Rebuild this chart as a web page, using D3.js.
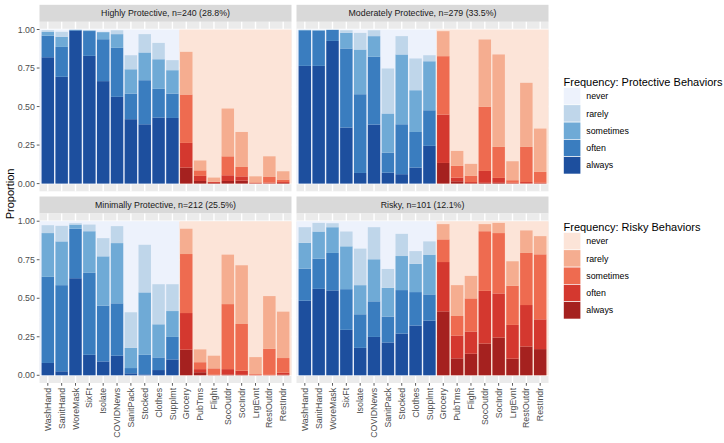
<!DOCTYPE html>
<html><head><meta charset="utf-8">
<script src="https://cdn.jsdelivr.net/npm/d3@7"></script>
<style>body{margin:0;background:#fff}svg{display:block;font-family:"Liberation Sans",Arial,sans-serif}</style>
</head><body><svg id="c" width="724" height="443"></svg>
<script>
const categories = ["WashHand","SanitHand","WoreMask","SixFt","Isolate","COVIDNews","SanitPack","Stocked","Clothes","Supplmt",
  "Grocery","PubTrns","Flight","SocOutdr","SocIndr","LrgEvnt","RestOutdr","RestIndr"];
const protectiveCats = categories.slice(0,10);
const levels = ["always","often","sometimes","rarely"];
const legendLevels = ["never","rarely","sometimes","often","always"];
const panelTitles = ["Highly Protective, n=240 (28.8%)","Moderately Protective, n=279 (33.5%)",
  "Minimally Protective, n=212 (25.5%)","Risky, n=101 (12.1%)"];
const yTicks = [0,0.25,0.5,0.75,1];

// Highly Protective
const hpAlways    = [.82,.693,.993,.829,.665,.563,.418,.385,.429,.426,.104,.017,.004,.017,.02,.002,.002,.004];
const hpOften     = [.14,.194,.004,.161,.272,.318,.166,.286,.186,.158,.16,.033,.006,.037,.027,.002,.004,.006];
const hpSometimes = [.025,.065,.001,.004,.046,.089,.158,.18,.192,.152,.314,.036,.002,.123,.061,.004,.037,.016];
const hpRarely    = [.01,.033,.001,.002,.002,.025,.091,.119,.106,.065,.277,.064,.027,.31,.227,.039,.134,.054];
// Moderately Protective
const mpAlways    = [.764,.764,.926,.364,.069,.383,.071,.061,.104,.245,.134,.015,.003,.005,.005,.002,.002,.002];
const mpOften     = [.231,.229,.071,.513,.511,.44,.13,.324,.231,.231,.314,.024,.007,.077,.032,.003,.008,.003];
const mpSometimes = [.002,.003,.001,.101,.29,.134,.254,.453,.271,.318,.379,.076,.04,.416,.201,.017,.228,.071];
const mpRarely    = [.001,.001,.001,.017,.108,.038,.292,.119,.206,.039,.162,.097,.078,.437,.6,.123,.416,.281];
// Minimally Protective
const minAlways    = [.08,.026,.63,.133,.09,.127,.013,.006,.034,.103,.166,.02,.001,.005,.003,.001,.001,.004];
const minOften     = [.559,.559,.321,.532,.362,.34,.034,.127,.082,.146,.238,.02,.003,.035,.027,.003,.002,.013];
const minSometimes = [.284,.284,.027,.27,.32,.391,.131,.405,.215,.168,.383,.045,.041,.422,.303,.004,.169,.095];
const minRarely    = [.051,.101,.009,.043,.118,.11,.231,.309,.26,.174,.164,.083,.082,.321,.381,.11,.342,.301];
// Risky
const rkAlways    = [.484,.561,.551,.295,.178,.249,.213,.271,.323,.355,.415,.11,.14,.206,.245,.108,.187,.17];
const rkOften     = [.208,.196,.243,.264,.218,.231,.168,.282,.217,.17,.32,.148,.144,.342,.286,.219,.269,.193];
const rkSometimes = [.168,.176,.167,.278,.189,.273,.187,.221,.183,.258,.147,.127,.215,.387,.392,.254,.338,.422];
const rkRarely    = [.101,.056,.026,.096,.237,.208,.122,.144,.083,.086,.099,.2,.146,.046,.066,.159,.146,.118];

const panelSeries = [
  [hpAlways,hpOften,hpSometimes,hpRarely],
  [mpAlways,mpOften,mpSometimes,mpRarely],
  [minAlways,minOften,minSometimes,minRarely],
  [rkAlways,rkOften,rkSometimes,rkRarely]
];

const blues = {never:"#EDF2FC",rarely:"#BFD6EA",sometimes:"#6FAAD6",often:"#3A7DBF",always:"#1D4F9E"};
const reds  = {never:"#FCE4D8",rarely:"#F5AD90",sometimes:"#EE6B50",often:"#D4382F",always:"#A5211F"};

const svg = d3.select("#c");
const colX = [39.5, 296.5], panelW = 252;
const stripTop = [4.8, 196.5], stripH = 17, panelH = 169.5;

const x = d3.scaleBand().domain(categories).range([0,panelW]).paddingInner(0.1).paddingOuter(0.15);
const y = d3.scaleLinear().domain([-0.05,1.05]).range([panelH,0]);

panelSeries.forEach((series,pi)=>{
  const col = pi%2, row = Math.floor(pi/2);
  const px = colX[col], py = stripTop[row]+stripH;
  // strip
  svg.append("rect").attr("x",px).attr("y",stripTop[row]).attr("width",panelW).attr("height",stripH).attr("fill","#D9D9D9");
  svg.append("text").attr("x",px+panelW/2).attr("y",stripTop[row]+stripH/2).attr("dy","0.35em")
    .attr("text-anchor","middle").attr("font-size",8.8).attr("fill","#1A1A1A").text(panelTitles[pi]);
  const g = svg.append("g").attr("transform",`translate(${px},${py})`);
  g.append("rect").attr("width",panelW).attr("height",panelH).attr("fill","#EBEBEB");
  // grid
  d3.range(0.125,1.0,0.25).forEach(v=>g.append("line").attr("x1",0).attr("x2",panelW).attr("y1",y(v)).attr("y2",y(v)).attr("stroke","#fff").attr("stroke-width",0.7));
  yTicks.forEach(v=>g.append("line").attr("x1",0).attr("x2",panelW).attr("y1",y(v)).attr("y2",y(v)).attr("stroke","#fff").attr("stroke-width",1.4));
  categories.forEach(c=>g.append("line").attr("x1",x(c)+x.bandwidth()/2).attr("x2",x(c)+x.bandwidth()/2).attr("y1",0).attr("y2",panelH).attr("stroke","#fff").attr("stroke-width",1.4));
  // never region (fills to 1)
  const split = x("Supplmt")+x.bandwidth()+x.step()*x.paddingInner()/2;
  g.append("rect").attr("x",0).attr("width",split).attr("y",y(1)).attr("height",y(0)-y(1)).attr("fill",blues.never);
  g.append("rect").attr("x",split).attr("width",panelW-split).attr("y",y(1)).attr("height",y(0)-y(1)).attr("fill",reds.never);
  // stacked bars
  const rows = categories.map((c,i)=>{const o={cat:c}; levels.forEach((l,li)=>o[l]=series[li][i]); return o;});
  const stacked = d3.stack().keys(levels)(rows);
  stacked.forEach(layer=>{
    g.selectAll(null).data(layer).join("rect")
      .attr("x",d=>x(d.data.cat)).attr("width",x.bandwidth())
      .attr("y",d=>y(d[1])).attr("height",d=>Math.max(0,y(d[0])-y(d[1])))
      .attr("fill",d=>(protectiveCats.includes(d.data.cat)?blues:reds)[layer.key]);
  });
  // y axis on left column
  if(col===0){
    yTicks.forEach(v=>{
      svg.append("line").attr("x1",px-2.75).attr("x2",px).attr("y1",py+y(v)).attr("y2",py+y(v)).attr("stroke","#333").attr("stroke-width",0.8);
      svg.append("text").attr("x",px-4.6).attr("y",py+y(v)).attr("dy","0.35em").attr("text-anchor","end")
        .attr("font-size",8.8).attr("fill","#4D4D4D").text(d3.format(".2f")(v));
    });
  }
  // x axis on bottom row
  if(row===1){
    categories.forEach(c=>{
      const cx = px+x(c)+x.bandwidth()/2;
      svg.append("line").attr("x1",cx).attr("x2",cx).attr("y1",py+panelH).attr("y2",py+panelH+2.75).attr("stroke","#333").attr("stroke-width",0.8);
      svg.append("text").attr("transform",`translate(${cx},${py+panelH+4.9}) rotate(-90)`).attr("dy","0.35em")
        .attr("text-anchor","end").attr("font-size",8.8).attr("fill","#4D4D4D").text(c);
    });
  }
});

// y title
svg.append("text").attr("transform",`translate(10,${(stripTop[0]+stripTop[1]+stripH+panelH)/2}) rotate(-90)`)
  .attr("dy","0.35em").attr("text-anchor","middle").attr("font-size",11).attr("fill","#000").text("Proportion");

// legends
function legend(title, pal, ty){
  const lx = 563.5, key=17.3;
  svg.append("text").attr("x",lx).attr("y",ty).attr("font-size",11).attr("fill","#000").text(title);
  legendLevels.forEach((l,i)=>{
    const ky = ty+1.5+i*key;
    svg.append("rect").attr("x",lx).attr("y",ky).attr("width",key).attr("height",key).attr("fill",pal[l]).attr("stroke","#fff").attr("stroke-width",0.6);
    svg.append("text").attr("x",lx+key+5.5).attr("y",ky+key/2).attr("dy","0.35em").attr("font-size",8.8).attr("fill","#000").text(l);
  });
}
legend("Frequency: Protective Behaviors", blues, 86);
legend("Frequency: Risky Behaviors", reds, 231);
</script></body></html>
